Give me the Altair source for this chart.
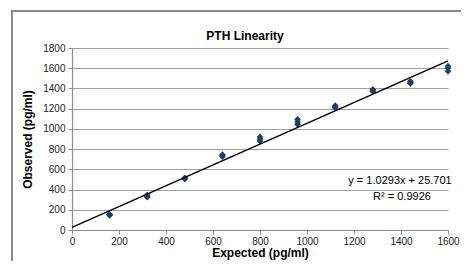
import altair as alt
import pandas as pd

# ---- data ----
levels = [160, 320, 480, 640, 800, 960, 1120, 1280, 1440, 1600]
obs_rep1 = [145, 325, 505, 725, 880, 1045, 1210, 1370, 1450, 1570]
obs_rep2 = [155, 335, 510, 735, 900, 1070, 1220, 1380, 1460, 1600]
obs_rep3 = [150, 345, 515, 745, 920, 1095, 1230, 1390, 1470, 1620]
slope = 1.0293
intercept = 25.701
r2 = 0.9926
x_ticks = [0, 200, 400, 600, 800, 1000, 1200, 1400, 1600]
y_ticks = [0, 200, 400, 600, 800, 1000, 1200, 1400, 1600, 1800]
chart_title = "PTH Linearity"

rows = []
for reps in (obs_rep1, obs_rep2, obs_rep3):
    for e, o in zip(levels, reps):
        rows.append({"Expected": e, "Observed": o})
pts = pd.DataFrame(rows)

trend_x = [0, 1600]
trend = pd.DataFrame({"Expected": trend_x,
                      "Observed": [slope * v + intercept for v in trend_x]})

FONT = "Liberation Sans"
xscale = alt.Scale(domain=[0, 1600], nice=False, zero=False)
yscale = alt.Scale(domain=[0, 1800], nice=False, zero=False)

X = alt.X("Expected:Q", scale=xscale,
          axis=alt.Axis(title="Expected (pg/ml)", values=x_ticks, grid=False, format="d",
                        labelOverlap=False, labelFlush=False,
                        titleFontSize=12, titleFontWeight="bold", titlePadding=1,
                        labelFontSize=10, tickSize=4, labelPadding=2))
Y = alt.Y("Observed:Q", scale=yscale,
          axis=alt.Axis(title="Observed (pg/ml)", values=y_ticks, grid=True, format="d",
                        labelOverlap=False, labelFlush=False,
                        titleFontSize=12, titleFontWeight="bold", titlePadding=8,
                        labelFontSize=10, tickSize=4, labelPadding=3))

points = alt.Chart(pts).mark_point(shape="diamond", filled=True, size=45,
                                   color="#1F3F6B", opacity=1).encode(x=X, y=Y)

line = alt.Chart(trend).mark_line(color="black", strokeWidth=1.5).encode(x=X, y=Y)

one = pd.DataFrame({"a": [0]})
eq = alt.Chart(one).mark_text(
    font=FONT, fontSize=11, color="black", align="center",
    text=f"y = {slope}x + {intercept}").encode(x=alt.value(328), y=alt.value(133))
r2t = alt.Chart(one).mark_text(
    font=FONT, fontSize=11, color="black", align="center",
    text=f"R² = {r2}").encode(x=alt.value(330), y=alt.value(149))
ttl = alt.Chart(one).mark_text(
    font=FONT, fontSize=12, fontWeight="bold", color="black", align="center",
    baseline="middle", text=chart_title).encode(x=alt.value(173), y=alt.value(-12))

frame_left = alt.Chart(one).mark_rule(color="#8a8a8a", strokeWidth=2).encode(
    x=alt.value(-60), y=alt.value(-37), y2=alt.value(230))
frame_top = alt.Chart(one).mark_rule(color="#8a8a8a", strokeWidth=2).encode(
    x=alt.value(-61), x2=alt.value(420), y=alt.value(-37))

chart = alt.layer(points, line, eq, r2t, ttl, frame_left, frame_top).properties(
    width=376, height=182,
    padding={"left": 64, "top": 40, "right": 13, "bottom": 31},
    autosize=alt.AutoSizeParams(type="none"),
    background="white",
).configure_view(stroke=None).configure_axis(
    labelFont=FONT, titleFont=FONT, labelColor="#222", titleColor="black",
    domainColor="#8c8c8c", tickColor="#8c8c8c", gridColor="#a0a0a0",
    gridWidth=1.2, domainWidth=1.2,
)

chart.save("out.html", embed_options={"renderer": "svg", "actions": False})
